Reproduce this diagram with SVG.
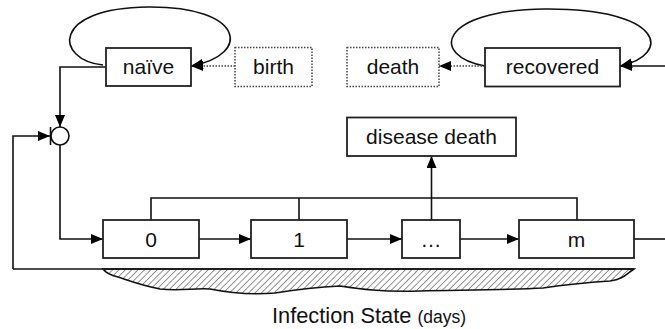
<svg xmlns="http://www.w3.org/2000/svg" width="665" height="329" viewBox="0 0 665 329">
<style>
.box{fill:#fff;stroke:#222;stroke-width:1.8}
.dbox{fill:#fff;stroke:#444;stroke-width:1.5;stroke-dasharray:1.5 1.5}
.lbl{font-family:"Liberation Sans",Arial,sans-serif;font-size:21px;fill:#111;text-anchor:middle}
.ln{fill:none;stroke:#111;stroke-width:1.6}
.dot{fill:none;stroke:#444;stroke-width:1.5;stroke-dasharray:1.5 1.5}
</style>
<defs>
<marker id="ah" markerUnits="userSpaceOnUse" markerWidth="13" markerHeight="11" refX="12" refY="5" orient="auto" viewBox="0 0 13 11">
<path d="M0,0 L12,5 L0,10 z" fill="#000"/>
</marker>
<pattern id="hatch" patternUnits="userSpaceOnUse" width="4.5" height="4.5" patternTransform="rotate(45)">
<rect width="4.5" height="4.5" fill="#fff"/>
<line x1="0" y1="0" x2="0" y2="4.5" stroke="#666" stroke-width="1.4"/>
</pattern>
</defs>
<g id="hatch-area">
<path d="M103,269 C105,272 110,275 118,277 C130,281 140,285 160,289 C180,291 195,288 210,289 C230,293 250,295 275,293 C300,289 320,287 340,286 C360,289 380,292 420,291 C470,290 510,290 543,288 C570,284 595,282 610,281 C624,279 626,274 634,269 Z" fill="url(#hatch)" stroke="#111" stroke-width="1.5"/>
</g>
<g id="connectors">
<path class="ln" d="M103,65 C55,60 50,8 148,7 C245,6 252,55 191,66" marker-end="url(#ah)"/>
<path class="dot" d="M235,66 L191,66" marker-end="url(#ah)"/>
<path class="ln" d="M485,66 C430,56 438,10 545,9 C665,8 672,55 620,66" marker-end="url(#ah)"/>
<path class="ln" d="M665,66 L620,66" marker-end="url(#ah)"/>
<path class="dot" d="M485,66 L439,66" marker-end="url(#ah)"/>
<path class="ln" d="M106,67 L60,67 L60,127" marker-end="url(#ah)"/>
<path class="ln" d="M13,269 L13,136 L50,136" marker-end="url(#ah)"/>
<line class="ln" x1="50.5" y1="127" x2="50.5" y2="145"/>
<path class="ln" d="M60,145 L60,239 L103,239" marker-end="url(#ah)"/>
<path class="ln" d="M199,239 L251,239" marker-end="url(#ah)"/>
<path class="ln" d="M347,239 L402,239" marker-end="url(#ah)"/>
<path class="ln" d="M460,239 L519,239" marker-end="url(#ah)"/>
<path class="ln" d="M634,239 L665,239"/>
<path class="ln" d="M151,220 L151,198 L577,198 L577,220 M299,198 L299,220"/>
<path class="ln" d="M431.5,220 L431.5,156" marker-end="url(#ah)"/>
<path class="ln" d="M13,269 L634,269"/>
</g>
<g id="junction"><circle cx="60" cy="136" r="9" fill="#fff" stroke="#111" stroke-width="1.6"/></g>
<g id="naive"><rect class="box" x="106" y="48" width="85" height="38"/><text class="lbl" x="148.5" y="74">naïve</text></g>
<g id="birth"><rect class="dbox" x="235" y="47.5" width="77" height="39"/><text class="lbl" x="273.5" y="74">birth</text></g>
<g id="death"><rect class="dbox" x="347" y="47.5" width="92" height="39"/><text class="lbl" x="393" y="74">death</text></g>
<g id="recovered"><rect class="box" x="485" y="48" width="135" height="38.5"/><text class="lbl" x="552.5" y="74">recovered</text></g>
<g id="disease-death"><rect class="box" x="347" y="117.5" width="169" height="38.5"/><text class="lbl" x="431.5" y="144">disease death</text></g>
<g id="s0"><rect class="box" x="103" y="220" width="96" height="38"/><text class="lbl" x="151" y="246.5">0</text></g>
<g id="s1"><rect class="box" x="251" y="220" width="96" height="38"/><text class="lbl" x="299" y="246.5">1</text></g>
<g id="sdots"><rect class="box" x="402" y="220" width="58" height="38"/><text class="lbl" x="431" y="246.5">…</text></g>
<g id="sm"><rect class="box" x="519" y="220" width="115" height="38"/><text class="lbl" x="576.5" y="246.5">m</text></g>
<text x="272" y="322.5" font-family="Liberation Sans,Arial,sans-serif" font-size="21.8" fill="#111">Infection State <tspan font-size="17.5">(days)</tspan></text>
</svg>
